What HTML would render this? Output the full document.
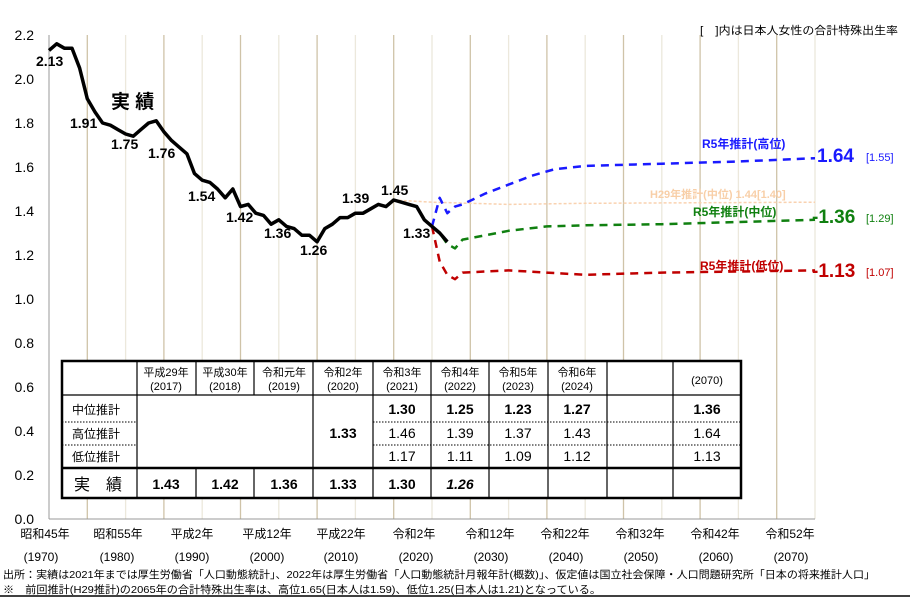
<!DOCTYPE html>
<html><head><meta charset="utf-8"><style>
body{margin:0;background:#fff;}
svg text{font-family:"Liberation Sans","Noto Sans CJK JP",sans-serif;}
</style></head><body>
<svg id="s" width="910" height="597" viewBox="0 0 910 597" xmlns="http://www.w3.org/2000/svg">
<g id="grid"></g>
<line x1="49" y1="35" x2="49" y2="519" stroke="#999" stroke-width="1"/>
<line x1="49" y1="519" x2="815" y2="519" stroke="#999" stroke-width="1"/>
<g font-size="14" fill="#000" text-anchor="end">
<text x="34" y="40">2.2</text><text x="34" y="84">2.0</text><text x="34" y="128">1.8</text><text x="34" y="172">1.6</text><text x="34" y="216">1.4</text><text x="34" y="260">1.2</text><text x="34" y="304">1.0</text><text x="34" y="348">0.8</text><text x="34" y="392">0.6</text><text x="34" y="436">0.4</text><text x="34" y="480">0.2</text><text x="34" y="524">0.0</text>
</g>
<g id="series"></g>
<g font-size="14" font-weight="bold" fill="#000">
<text x="36" y="66">2.13</text><text x="70" y="128">1.91</text><text x="111" y="149">1.75</text><text x="148" y="158">1.76</text><text x="188" y="201">1.54</text><text x="226" y="222">1.42</text><text x="264" y="238">1.36</text><text x="300" y="255">1.26</text><text x="342" y="203">1.39</text><text x="381" y="195">1.45</text><text x="403" y="238">1.33</text>
<text x="111" y="108" font-size="19">実 績</text>
</g>
<text x="702" y="148" font-size="12" font-weight="bold" fill="#1a1aff">R5年推計(高位)</text>
<text x="817" y="162" font-size="19" font-weight="bold" fill="#1a1aff">1.64</text>
<text x="866" y="161" font-size="11" fill="#1a1aff">[1.55]</text>
<text x="650" y="198" font-size="11" font-weight="bold" fill="#f8cfa8">H29年推計(中位) 1.44[1.40]</text>
<text x="693" y="216" font-size="12" font-weight="bold" fill="#108010">R5年推計(中位)</text>
<text x="812" y="223" font-size="19" font-weight="bold" fill="#108010">-1.36</text>
<text x="866" y="222" font-size="11" fill="#108010">[1.29]</text>
<text x="700" y="270" font-size="12" font-weight="bold" fill="#c00000">R5年推計(低位)</text>
<text x="812" y="277" font-size="19" font-weight="bold" fill="#c00000">-1.13</text>
<text x="866" y="276" font-size="11" fill="#c00000">[1.07]</text>
<text x="700" y="34" font-size="11" fill="#000" textLength="198" lengthAdjust="spacingAndGlyphs">[　]内は日本人女性の合計特殊出生率</text>
<rect x="62" y="361" width="679" height="137" fill="#fff" stroke="none"/>
<g stroke="#000" stroke-width="1.2" fill="none">
<line x1="137" y1="361" x2="137" y2="468"/><line x1="196" y1="361" x2="196" y2="395"/><line x1="254" y1="361" x2="254" y2="395"/>
<line x1="137" y1="468" x2="137" y2="498"/><line x1="196" y1="468" x2="196" y2="498"/><line x1="254" y1="468" x2="254" y2="498"/>
<line x1="313" y1="361" x2="313" y2="498"/><line x1="373" y1="361" x2="373" y2="498"/><line x1="431" y1="361" x2="431" y2="498"/><line x1="489" y1="361" x2="489" y2="498"/><line x1="548" y1="361" x2="548" y2="498"/><line x1="607" y1="361" x2="607" y2="498"/><line x1="673" y1="361" x2="673" y2="498"/>
<line x1="62" y1="395" x2="741" y2="395"/>
</g>
<g stroke="#000" stroke-width="1" stroke-dasharray="1.5,1.5">
<line x1="62" y1="422" x2="137" y2="422"/><line x1="373" y1="422" x2="741" y2="422"/>
<line x1="62" y1="445" x2="137" y2="445"/><line x1="373" y1="445" x2="741" y2="445"/>
</g>
<line x1="62" y1="468" x2="741" y2="468" stroke="#000" stroke-width="2.5"/>
<rect x="62" y="361" width="679" height="137" fill="none" stroke="#000" stroke-width="2.5"/>
<g font-size="11" text-anchor="middle" fill="#000">
<text x="166" y="376">平成29年</text><text x="166" y="390">(2017)</text>
<text x="225" y="376">平成30年</text><text x="225" y="390">(2018)</text>
<text x="284" y="376">令和元年</text><text x="284" y="390">(2019)</text>
<text x="343" y="376">令和2年</text><text x="343" y="390">(2020)</text>
<text x="402" y="376">令和3年</text><text x="402" y="390">(2021)</text>
<text x="460" y="376">令和4年</text><text x="460" y="390">(2022)</text>
<text x="518" y="376">令和5年</text><text x="518" y="390">(2023)</text>
<text x="577" y="376">令和6年</text><text x="577" y="390">(2024)</text>
<text x="707" y="384">(2070)</text>
</g>
<g font-size="12" fill="#000">
<text x="72" y="414">中位推計</text><text x="72" y="438">高位推計</text><text x="72" y="461">低位推計</text>
<text x="74" y="490" font-size="16">実　績</text>
</g>
<g font-size="14" text-anchor="middle" fill="#000">
<text x="402" y="414" font-weight="bold">1.30</text><text x="460" y="414" font-weight="bold">1.25</text><text x="518" y="414" font-weight="bold">1.23</text><text x="577" y="414" font-weight="bold">1.27</text><text x="707" y="414" font-weight="bold">1.36</text>
<text x="343" y="438" font-weight="bold">1.33</text>
<text x="402" y="438">1.46</text><text x="460" y="438">1.39</text><text x="518" y="438">1.37</text><text x="577" y="438">1.43</text><text x="707" y="438">1.64</text>
<text x="402" y="461">1.17</text><text x="460" y="461">1.11</text><text x="518" y="461">1.09</text><text x="577" y="461">1.12</text><text x="707" y="461">1.13</text>
<text x="166" y="489" font-weight="bold">1.43</text><text x="225" y="489" font-weight="bold">1.42</text><text x="284" y="489" font-weight="bold">1.36</text><text x="343" y="489" font-weight="bold">1.33</text><text x="402" y="489" font-weight="bold">1.30</text><text x="460" y="489" font-weight="bold" font-style="italic">1.26</text>
</g>
<g font-size="12" text-anchor="middle" fill="#000">
<text x="45" y="538">昭和45年</text><text x="118" y="538">昭和55年</text><text x="192" y="538">平成2年</text><text x="267" y="538">平成12年</text><text x="341" y="538">平成22年</text><text x="414" y="538">令和2年</text><text x="490" y="538">令和12年</text><text x="565" y="538">令和22年</text><text x="640" y="538">令和32年</text><text x="715" y="538">令和42年</text><text x="790" y="538">令和52年</text>
<text x="41" y="561">(1970)</text><text x="117" y="561">(1980)</text><text x="192" y="561">(1990)</text><text x="267" y="561">(2000)</text><text x="341" y="561">(2010)</text><text x="416" y="561">(2020)</text><text x="491" y="561">(2030)</text><text x="566" y="561">(2040)</text><text x="641" y="561">(2050)</text><text x="716" y="561">(2060)</text><text x="791" y="561">(2070)</text>
</g>
<g font-size="10.5" fill="#000">
<text x="3" y="578" textLength="872" lengthAdjust="spacingAndGlyphs">出所：実績は2021年までは厚生労働省「人口動態統計」、2022年は厚生労働省「人口動態統計月報年計(概数)」、仮定値は国立社会保障・人口問題研究所「日本の将来推計人口」</text>
<text x="3" y="593" textLength="598" lengthAdjust="spacingAndGlyphs">※　前回推計(H29推計)の2065年の合計特殊出生率は、高位1.65(日本人は1.59)、低位1.25(日本人は1.21)となっている。</text>
</g>
<line x1="0" y1="596" x2="910" y2="596" stroke="#000" stroke-width="1.5"/>
<script>
(function(){
var ns="http://www.w3.org/2000/svg";
function X(y){return 49+(y-1970)*7.66;}
function Y(v){return 35+(2.2-v)*220;}
var g=document.getElementById('grid');
for(var i=1;i<=20;i++){var x=49+i*38.3;var l=document.createElementNS(ns,'line');
l.setAttribute('x1',x);l.setAttribute('x2',x);l.setAttribute('y1',35);l.setAttribute('y2',519);
l.setAttribute('stroke',i%2?'#cfc3a8':'#ece8dc');l.setAttribute('stroke-width',1.3);g.appendChild(l);}
function path(pts,col,w,dash){var d='';pts.forEach(function(p,i){d+=(i?'L':'M')+X(p[0]).toFixed(1)+','+Y(p[1]).toFixed(1);});
var p=document.createElementNS(ns,'path');p.setAttribute('d',d);p.setAttribute('fill','none');p.setAttribute('stroke',col);
p.setAttribute('stroke-width',w);p.setAttribute('stroke-linejoin','round');if(dash)p.setAttribute('stroke-dasharray',dash);
document.getElementById('series').appendChild(p);}
var a=[2.13,2.16,2.14,2.14,2.05,1.91,1.85,1.80,1.79,1.77,1.75,1.74,1.77,1.80,1.81,1.76,1.72,1.69,1.66,1.57,1.54,1.53,1.50,1.46,1.50,1.42,1.43,1.39,1.38,1.34,1.36,1.33,1.32,1.29,1.29,1.26,1.32,1.34,1.37,1.37,1.39,1.39,1.41,1.43,1.42,1.45,1.44,1.43,1.42,1.36,1.33,1.30,1.26];
path([[2015,1.45],[2020,1.44],[2030,1.43],[2040,1.435],[2070,1.44]],'#f9d2b0',1.5,'3,2');
path([[2020,1.33],[2021,1.46],[2022,1.39],[2023,1.42],[2024,1.43],[2027,1.48],[2030,1.52],[2033,1.56],[2036,1.59],[2040,1.605],[2050,1.615],[2060,1.625],[2070,1.64]],'#1a1aff',2.5,'8,6');
path([[2020,1.33],[2021,1.30],[2022,1.25],[2023,1.23],[2024,1.27],[2027,1.29],[2030,1.31],[2035,1.33],[2040,1.335],[2050,1.34],[2060,1.35],[2070,1.36]],'#108010',2.5,'8,6');
path([[2020,1.33],[2021,1.17],[2022,1.11],[2023,1.09],[2024,1.12],[2030,1.13],[2040,1.11],[2050,1.12],[2060,1.125],[2070,1.13]],'#c00000',2.5,'8,6');
path(a.map(function(v,i){return [1970+i,v];}),'#000',3.5);
})();
</script>
</svg>
</body></html>
